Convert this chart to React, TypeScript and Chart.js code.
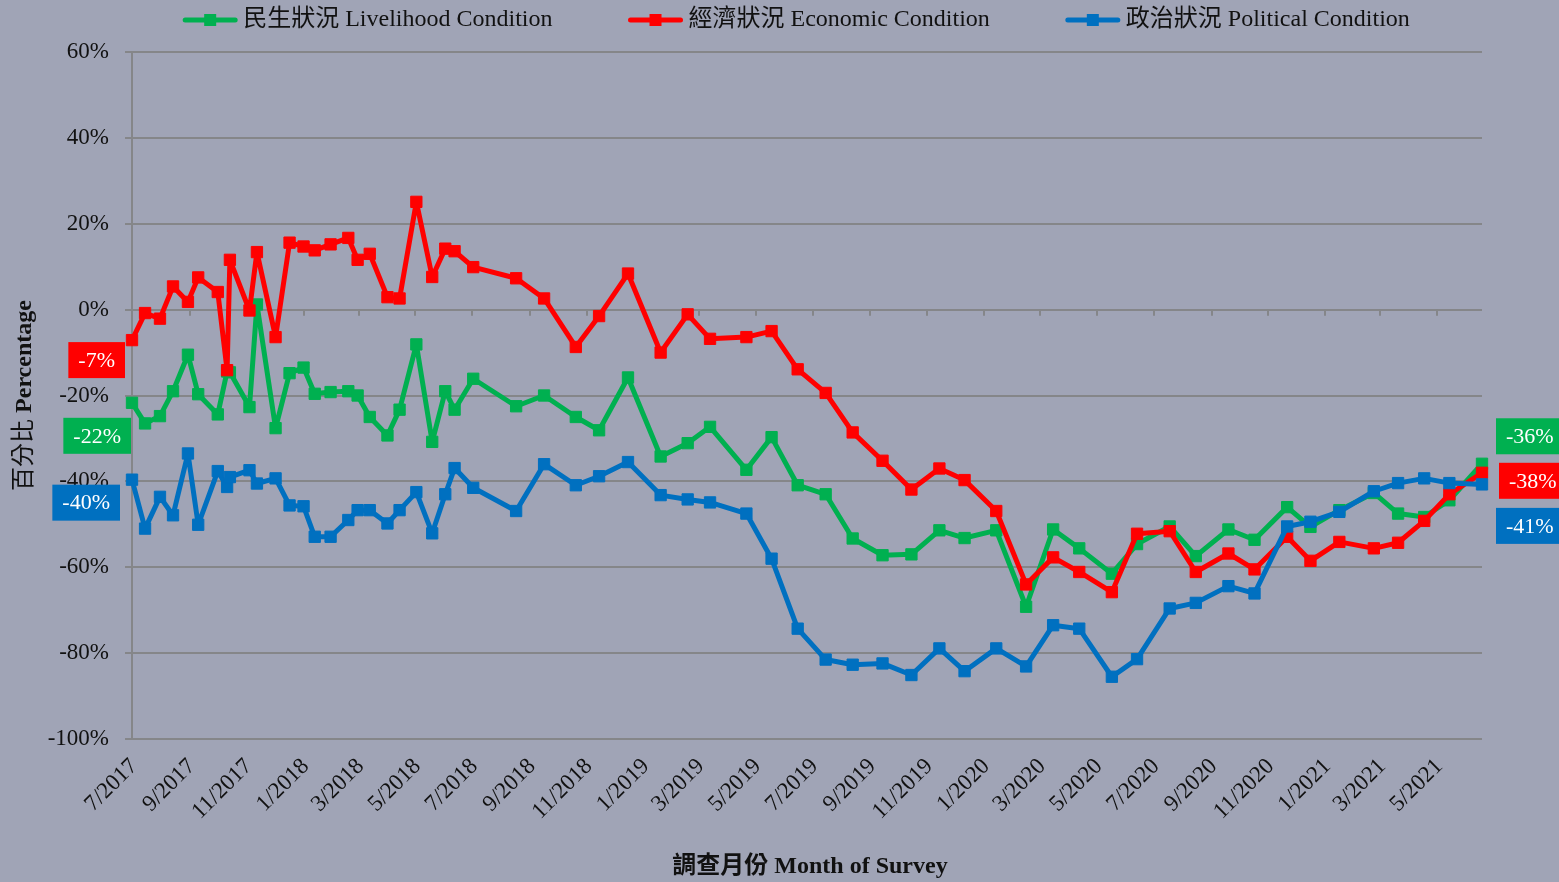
import React, { useEffect, useRef } from "react";
import { Chart, registerables } from "chart.js";

Chart.register(...registerables);

// ---------------- data ----------------
const SERIES_NAMES = [
  "民生狀況 Livelihood Condition",
  "經濟狀況 Economic Condition",
  "政治狀況 Political Condition",
];

const SURVEY_DATES = [
  "2017-07-01", "2017-07-15", "2017-07-31", "2017-08-14", "2017-08-30", "2017-09-10",
  "2017-10-01", "2017-10-11", "2017-10-14", "2017-11-04", "2017-11-12", "2017-12-02",
  "2017-12-17", "2018-01-01", "2018-01-13", "2018-01-30", "2018-02-18", "2018-02-28",
  "2018-03-13", "2018-04-01", "2018-04-14", "2018-05-02", "2018-05-19", "2018-06-02",
  "2018-06-12", "2018-07-02", "2018-08-17", "2018-09-16", "2018-10-20", "2018-11-14",
  "2018-12-15", "2019-01-19", "2019-02-17", "2019-03-13", "2019-04-21", "2019-05-18",
  "2019-06-15", "2019-07-15", "2019-08-13", "2019-09-14", "2019-10-15", "2019-11-14",
  "2019-12-11", "2020-01-14", "2020-02-15", "2020-03-15", "2020-04-12", "2020-05-17",
  "2020-06-13", "2020-07-18", "2020-08-15", "2020-09-19", "2020-10-17", "2020-11-21",
  "2020-12-16", "2021-01-16", "2021-02-22", "2021-03-20", "2021-04-17", "2021-05-14",
  "2021-06-18",
];

const LIVELIHOOD = [
  -21.7, -26.5, -24.8, -19.0, -10.5, -19.7, -24.4, -14.4, -14.6, -22.7,
  1.2, -27.6, -14.8, -13.5, -19.6, -19.2, -19.0, -20.0, -25.0, -29.3,
  -23.3, -8.1, -30.8, -19.0, -23.3, -16.1, -22.5, -20.0, -25.0, -28.1,
  -15.8, -34.2, -31.1, -27.3, -37.3, -29.7, -40.9, -43.0, -53.3, -57.2,
  -57.0, -51.4, -53.2, -51.4, -69.2, -51.2, -55.6, -61.5, -54.6, -50.5,
  -57.4, -51.2, -53.6, -46.0, -50.6, -46.7, -42.7, -47.5, -48.3, -44.4,
  -35.9,
];

const ECONOMIC = [
  -7.1, -0.8, -2.1, 5.4, 1.8, 7.5, 4.1, -14.1, 11.6, -0.2,
  13.4, -6.4, 15.6, 14.7, 13.8, 15.2, 16.7, 11.6, 13.0, 2.9,
  2.6, 25.1, 7.6, 14.2, 13.6, 9.9, 7.3, 2.6, -8.7, -1.5,
  8.4, -10.0, -1.1, -6.8, -6.4, -5.0, -13.9, -19.4, -28.6, -35.2,
  -41.9, -37.0, -39.7, -46.9, -64.0, -57.7, -61.1, -65.8, -52.2, -51.6,
  -61.1, -56.8, -60.5, -52.9, -58.5, -54.1, -55.6, -54.3, -49.2, -43.0,
  -38.0,
];

const POLITICAL = [
  -39.6, -51.0, -43.6, -47.9, -33.5, -50.1, -37.6, -41.3, -39.0, -37.4,
  -40.5, -39.3, -45.6, -45.8, -52.9, -52.9, -49.0, -46.7, -46.7, -49.8,
  -46.7, -42.5, -52.1, -43.0, -36.9, -41.5, -46.9, -36.0, -40.9, -38.8,
  -35.5, -43.2, -44.2, -44.9, -47.5, -58.0, -74.3, -81.5, -82.7, -82.4,
  -85.1, -78.9, -84.2, -78.9, -83.1, -73.5, -74.3, -85.5, -81.4, -69.6,
  -68.3, -64.4, -66.1, -50.5, -49.4, -47.1, -42.3, -40.4, -39.3, -40.4,
  -40.7,
];

const X_TICK_LABELS = [
  "7/2017", "9/2017", "11/2017", "1/2018", "3/2018", "5/2018", "7/2018", "9/2018",
  "11/2018", "1/2019", "3/2019", "5/2019", "7/2019", "9/2019", "11/2019", "1/2020",
  "3/2020", "5/2020", "7/2020", "9/2020", "11/2020", "1/2021", "3/2021", "5/2021",
];

const Y_MIN = -100;
const Y_MAX = 60;
const Y_STEP = 20;

const START_LABELS = ["-22%", "-7%", "-40%"];
const END_LABELS = ["-36%", "-38%", "-41%"];

const X_TITLE = "調查月份 Month of Survey";
const Y_TITLE_CJK = "百分比 ";
const Y_TITLE_EN = "Percentage";

// ---------------- styles ----------------
const COLORS = ["#00B050", "#FF0000", "#0070C0"];
const BG = "#A0A4B6";
const GRID = "#858689";
const TEXT = "#111111";
const SERIF = "'Liberation Serif', 'Noto Sans CJK TC', serif";
// label box offsets relative to first / last point
const START_BOX = [
  { dx: -1, dy: 33 },
  { dx: -7, dy: 20 },
  { dx: -12, dy: 23 },
];
const END_BOX = [
  { dx: 14, dy: -27.5 },
  { dx: 17, dy: 8 },
  { dx: 14, dy: 41.5 },
];

const BASE = Date.UTC(2017, 6, 1);
function dayOf(iso: string): number {
  const [y, m, d] = iso.split("-").map(Number);
  return (Date.UTC(y, m - 1, d) - BASE) / 86400000;
}
function dayOfTick(lbl: string): number {
  const [m, y] = lbl.split("/").map(Number);
  return (Date.UTC(y, m - 1, 1) - BASE) / 86400000;
}

const TICK_DAYS = X_TICK_LABELS.map(dayOfTick);
const TICK_MAP = new Map<number, string>();
X_TICK_LABELS.forEach((l, i) => TICK_MAP.set(TICK_DAYS[i], l));
const X_DAYS = SURVEY_DATES.map(dayOf);
const SERIES = [LIVELIHOOD, ECONOMIC, POLITICAL];

function drawBox(ctx: CanvasRenderingContext2D, text: string, left: number, cy: number, color: string) {
  ctx.font = `22px ${SERIF}`;
  const w = ctx.measureText(text).width + 20;
  const h = 36;
  ctx.fillStyle = color;
  ctx.fillRect(left, cy - h / 2, w, h);
  ctx.fillStyle = "#FFFFFF";
  ctx.textAlign = "center";
  ctx.textBaseline = "middle";
  ctx.fillText(text, left + w / 2, cy + 1);
  return w;
}

const decorPlugin = {
  id: "decor",
  beforeDatasetsDraw(chart: any) {
    const { ctx, scales } = chart;
    const x = scales.x;
    const y = scales.y;
    const y0 = y.getPixelForValue(0);
    ctx.save();
    ctx.strokeStyle = GRID;
    ctx.lineWidth = 2;
    for (const t of TICK_DAYS) {
      const px = Math.round(x.getPixelForValue(t));
      ctx.beginPath();
      ctx.moveTo(px, y0);
      ctx.lineTo(px, y0 + 6);
      ctx.stroke();
    }
    ctx.restore();
  },
  afterDraw(chart: any) {
    const { ctx, chartArea } = chart;
    ctx.save();

    // legend
    ctx.font = `24px ${SERIF}`;
    const symW = 56;
    const gapText = 5;
    const gapItem = 75;
    const widths = SERIES_NAMES.map((n) => ctx.measureText(n).width);
    const total = widths.reduce((a, b) => a + b, 0) + SERIES_NAMES.length * (symW + gapText) + gapItem * (SERIES_NAMES.length - 1);
    let lx = 796 - total / 2;
    const ly = 20;
    SERIES_NAMES.forEach((name, i) => {
      ctx.strokeStyle = COLORS[i];
      ctx.lineWidth = 5;
      ctx.lineCap = "round";
      ctx.beginPath();
      ctx.moveTo(lx + 3, ly);
      ctx.lineTo(lx + symW - 3, ly);
      ctx.stroke();
      ctx.fillStyle = COLORS[i];
      ctx.fillRect(lx + symW / 2 - 6, ly - 6, 12, 12);
      ctx.fillStyle = TEXT;
      ctx.textAlign = "left";
      ctx.textBaseline = "middle";
      ctx.fillText(name, lx + symW + gapText, ly);
      lx += symW + gapText + widths[i] + gapItem;
    });

    // axis titles
    const cy = (chartArea.top + chartArea.bottom) / 2;
    ctx.save();
    ctx.translate(25, cy);
    ctx.rotate(-Math.PI / 2);
    ctx.font = `24px ${SERIF}`;
    const w1 = ctx.measureText(Y_TITLE_CJK).width;
    ctx.font = `bold 24px ${SERIF}`;
    const w2 = ctx.measureText(Y_TITLE_EN).width;
    ctx.fillStyle = TEXT;
    ctx.textBaseline = "middle";
    ctx.textAlign = "left";
    ctx.font = `24px ${SERIF}`;
    ctx.fillText(Y_TITLE_CJK, -(w1 + w2) / 2, 0);
    ctx.font = `bold 24px ${SERIF}`;
    ctx.fillText(Y_TITLE_EN, -(w1 + w2) / 2 + w1, 0);
    ctx.restore();

    ctx.font = `bold 24px ${SERIF}`;
    ctx.fillStyle = TEXT;
    ctx.textAlign = "center";
    ctx.textBaseline = "middle";
    ctx.fillText(X_TITLE, (chartArea.left + chartArea.right) / 2 + 3, 867);

    // start / end value boxes
    SERIES.forEach((_, i) => {
      const pts = chart.getDatasetMeta(i).data;
      const first = pts[0];
      const last = pts[pts.length - 1];
      ctx.font = `22px ${SERIF}`;
      const ws = ctx.measureText(START_LABELS[i]).width + 20;
      drawBox(ctx, START_LABELS[i], first.x + START_BOX[i].dx - ws, first.y + START_BOX[i].dy, COLORS[i]);
      drawBox(ctx, END_LABELS[i], last.x + END_BOX[i].dx, last.y + END_BOX[i].dy, COLORS[i]);
    });

    ctx.restore();
  },
};

export default function App() {
  const canvasRef = useRef<HTMLCanvasElement | null>(null);

  useEffect(() => {
    document.body.style.margin = "0";
    const canvas = canvasRef.current;
    if (!canvas) return;
    const orders = [3, 2, 1];
    const chart = new Chart(canvas, {
      type: "line",
      data: {
        datasets: SERIES.map((vals, i) => ({
          label: SERIES_NAMES[i],
          data: vals.map((v, j) => ({ x: X_DAYS[j], y: v })),
          borderColor: COLORS[i],
          backgroundColor: COLORS[i],
          borderWidth: 5,
          borderJoinStyle: "round" as const,
          borderCapStyle: "round" as const,
          pointStyle: "rect" as const,
          pointRadius: 8,
          pointBorderWidth: 1,
          pointBorderColor: COLORS[i],
          pointBackgroundColor: COLORS[i],
          tension: 0,
          clip: false as any,
          order: orders[i],
        })),
      },
      options: {
        responsive: false,
        animation: false,
        devicePixelRatio: 1,
        events: [],
        layout: { padding: { top: 52, right: 77, bottom: 0, left: 0 } },
        plugins: {
          legend: { display: false },
          tooltip: { enabled: false },
          title: { display: false },
        },
        scales: {
          x: {
            type: "linear",
            min: X_DAYS[0],
            max: X_DAYS[X_DAYS.length - 1],
            grid: { display: false, drawTicks: false },
            border: { display: false },
            afterBuildTicks: (s: any) => {
              s.ticks = TICK_DAYS.map((v) => ({ value: v }));
            },
            afterFit: (s: any) => {
              s.height = 143;
            },
            ticks: {
              autoSkip: false,
              minRotation: 45,
              maxRotation: 45,
              padding: 14,
              labelOffset: 2,
              color: TEXT,
              font: { family: SERIF, size: 23 },
              callback: (v: any) => TICK_MAP.get(Number(v)) ?? "",
            },
          },
          y: {
            min: Y_MIN,
            max: Y_MAX,
            grid: { color: GRID, lineWidth: 2, drawTicks: true, tickLength: 7 },
            border: { display: true, color: GRID, width: 2 },
            afterFit: (s: any) => {
              s.width = 132;
            },
            ticks: {
              stepSize: Y_STEP,
              padding: 16,
              color: TEXT,
              font: { family: SERIF, size: 23 },
              callback: (v: any) => `${v}%`,
            },
          },
        },
      },
      plugins: [decorPlugin],
    } as any);
    return () => chart.destroy();
  }, []);

  return (
    <div style={{ position: "fixed", left: 0, top: 0, width: 1559, height: 882, background: BG }}>
      <canvas ref={canvasRef} width={1559} height={882} style={{ display: "block", width: 1559, height: 882 }} />
    </div>
  );
}
